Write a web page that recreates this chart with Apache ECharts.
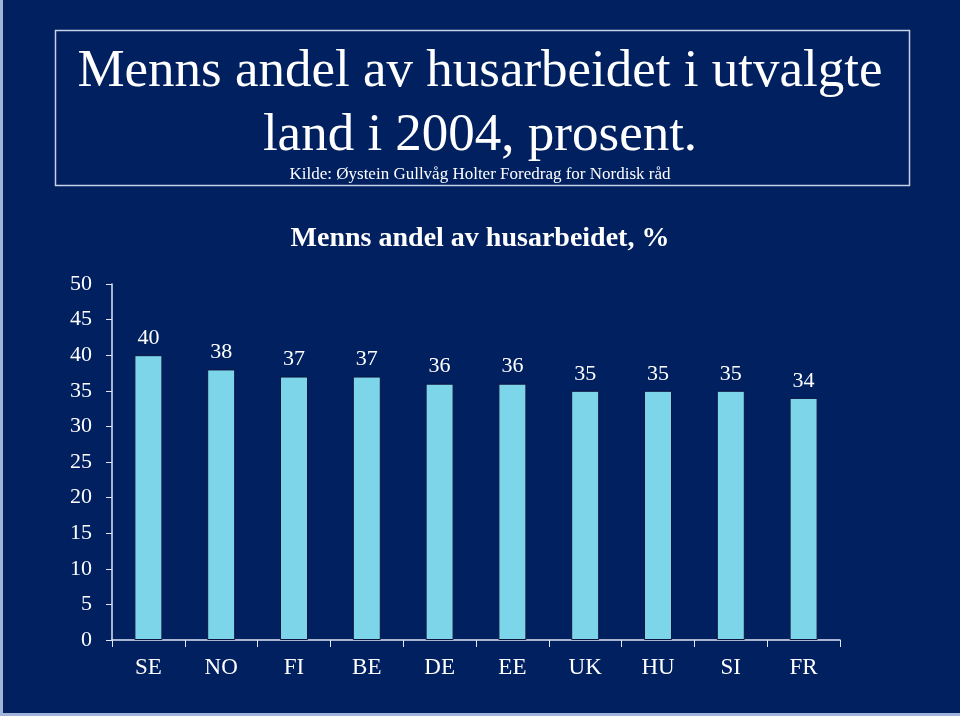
<!DOCTYPE html>
<html>
<head>
<meta charset="utf-8">
<style>
html,body{margin:0;padding:0;background:#002060;}
#chart{width:960px;height:716px;}
</style>
<script src="https://cdn.jsdelivr.net/npm/echarts@6/dist/echarts.min.js"></script>
</head>
<body>
<div id="chart"></div>
<script>
var categories = ['SE','NO','FI','BE','DE','EE','UK','HU','SI','FR'];
var values = [40,38,37,37,36,36,35,35,35,34];
var titleLine1 = 'Menns andel av husarbeidet i utvalgte';
var titleLine2 = 'land i 2004, prosent.';
var sourceText = 'Kilde: Øystein Gullvåg Holter Foredrag for Nordisk råd';
var chartTitle = 'Menns andel av husarbeidet, %';

var serif = '"Liberation Serif","Times New Roman",serif';
var chart = echarts.init(document.getElementById('chart'));
chart.setOption({
  backgroundColor: '#002060',
  animation: false,
  title: [
    {text: titleLine1, left: 'center', top: 41, textStyle: {color:'#fff', fontFamily: serif, fontWeight:'normal', fontSize: 53}},
    {text: titleLine2, left: 'center', top: 105, textStyle: {color:'#fff', fontFamily: serif, fontWeight:'normal', fontSize: 53}},
    {text: sourceText, left: 'center', top: 161, textStyle: {color:'#fff', fontFamily: serif, fontWeight:'normal', fontSize: 17}},
    {text: chartTitle, left: 475, textAlign: 'center', top: 220, textStyle: {color:'#fff', fontFamily: serif, fontWeight:'bold', fontSize: 28}}
  ],
  graphic: [
    {type:'rect', shape:{x:55.5, y:30.5, width:854, height:155}, style:{fill:'none', stroke:'#c8d0e8', lineWidth:1.5}},
    {type:'rect', shape:{x:0, y:0, width:3, height:716}, style:{fill:'#9fb4d8'}},
    {type:'rect', shape:{x:0, y:713, width:960, height:3}, style:{fill:'#9fb4d8'}}
  ],
  grid: {left: 112, right: 120, top: 284, bottom: 76},
  xAxis: {
    type: 'category',
    data: categories,
    axisLine: {lineStyle: {color: '#dfe6f5', width: 1.5}},
    axisTick: {show: true, length: 7, lineStyle: {color: '#dfe6f5'}},
    axisLabel: {color: '#fff', fontFamily: serif, fontSize: 23, margin: 16}
  },
  yAxis: {
    type: 'value',
    min: 0, max: 50, interval: 5,
    splitLine: {show: false},
    axisLine: {show: true, lineStyle: {color: '#dfe6f5', width: 1.5}},
    axisTick: {show: true, length: 6, lineStyle: {color: '#dfe6f5'}},
    axisLabel: {color: '#fff', fontFamily: serif, fontSize: 22, margin: 20}
  },
  series: [{
    type: 'bar',
    data: values,
    barWidth: 28,
    itemStyle: {color: '#7dd5ea', borderColor: '#0d1540', borderWidth: 1},
    label: {show: true, position: 'top', distance: 6, color: '#fff', fontFamily: serif, fontSize: 22}
  }]
});
</script>
</body>
</html>
